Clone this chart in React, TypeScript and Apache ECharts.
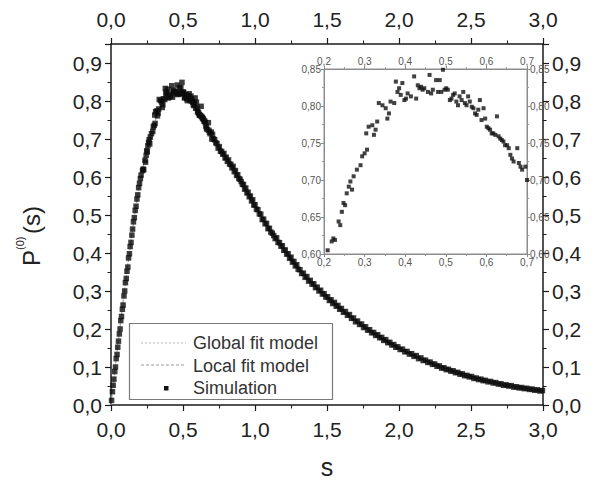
import React, { useEffect, useRef } from "react";
import * as echarts from "echarts";

// ---------- data ----------
const mainXTicks = [0, 0.5, 1, 1.5, 2, 2.5, 3];
const mainYTicks = [0, 0.1, 0.2, 0.3, 0.4, 0.5, 0.6, 0.7, 0.8, 0.9];
const insetXTicks = [0.2, 0.3, 0.4, 0.5, 0.6, 0.7];
const insetYTicks = [0.6, 0.65, 0.7, 0.75, 0.8, 0.85];

const legendLabels = ["Global fit model", "Local fit model", "Simulation"];

// simulation points, rising part (s < 0.2)
const simRising: [number, number][] = [
  [0.004, 0.012], [0.010, 0.035], [0.015, 0.052], [0.020, 0.068], [0.026, 0.088],
  [0.031, 0.100], [0.036, 0.122], [0.042, 0.133], [0.047, 0.152], [0.052, 0.168],
  [0.058, 0.187], [0.063, 0.200], [0.068, 0.222], [0.073, 0.233], [0.079, 0.252],
  [0.084, 0.263], [0.090, 0.287], [0.095, 0.300], [0.100, 0.322], [0.106, 0.333],
  [0.111, 0.352], [0.117, 0.363], [0.122, 0.387], [0.128, 0.398], [0.133, 0.417],
  [0.139, 0.428], [0.145, 0.447], [0.150, 0.463], [0.156, 0.482], [0.162, 0.493],
  [0.168, 0.512], [0.174, 0.523], [0.180, 0.542], [0.186, 0.553], [0.192, 0.572],
  [0.198, 0.583], [0.204, 0.596],
];

// simulation points around the peak (the inset range 0.2 .. 0.7)
const simPeak: [number, number][] = [
  [0.209, 0.605], [0.219, 0.617], [0.223, 0.621], [0.227, 0.619], [0.236, 0.644],
  [0.240, 0.639], [0.244, 0.657], [0.248, 0.669], [0.252, 0.666], [0.256, 0.682],
  [0.261, 0.691], [0.265, 0.698], [0.269, 0.687], [0.273, 0.705], [0.281, 0.714],
  [0.290, 0.720], [0.294, 0.732], [0.300, 0.736], [0.306, 0.741], [0.304, 0.763],
  [0.310, 0.772], [0.319, 0.774], [0.327, 0.768], [0.323, 0.761], [0.331, 0.779],
  [0.335, 0.804], [0.344, 0.801], [0.352, 0.797], [0.356, 0.783], [0.360, 0.790],
  [0.364, 0.806], [0.373, 0.804], [0.377, 0.833], [0.381, 0.819], [0.385, 0.824],
  [0.389, 0.815], [0.393, 0.831], [0.398, 0.808], [0.402, 0.810], [0.406, 0.817],
  [0.414, 0.813], [0.422, 0.840], [0.427, 0.810], [0.431, 0.828], [0.435, 0.824],
  [0.439, 0.826], [0.443, 0.822], [0.447, 0.824], [0.456, 0.819], [0.460, 0.842],
  [0.464, 0.817], [0.468, 0.822], [0.476, 0.835], [0.481, 0.819], [0.485, 0.835],
  [0.489, 0.819], [0.493, 0.849], [0.497, 0.822], [0.501, 0.824], [0.505, 0.822],
  [0.510, 0.808], [0.514, 0.810], [0.518, 0.815], [0.522, 0.817], [0.526, 0.806],
  [0.530, 0.801], [0.534, 0.813], [0.539, 0.808], [0.543, 0.819], [0.547, 0.804],
  [0.551, 0.801], [0.555, 0.813], [0.559, 0.806], [0.564, 0.799], [0.568, 0.797],
  [0.572, 0.790], [0.576, 0.788], [0.580, 0.795], [0.584, 0.808], [0.588, 0.781],
  [0.593, 0.797], [0.597, 0.783], [0.601, 0.772], [0.605, 0.770], [0.609, 0.768],
  [0.613, 0.763], [0.617, 0.763], [0.622, 0.761], [0.626, 0.786], [0.630, 0.759],
  [0.634, 0.756], [0.638, 0.754], [0.642, 0.752], [0.646, 0.747], [0.651, 0.747],
  [0.655, 0.743], [0.659, 0.734], [0.663, 0.729], [0.667, 0.725], [0.676, 0.743],
  [0.680, 0.723], [0.684, 0.718], [0.688, 0.714], [0.696, 0.718], [0.700, 0.700],
];

// simulation points, decaying tail (s > 0.7)
const simDecay: [number, number][] = [
  [0.705, 0.712], [0.712, 0.700], [0.720, 0.698], [0.728, 0.690], [0.736, 0.688],
  [0.744, 0.676], [0.752, 0.680], [0.760, 0.668], [0.768, 0.667], [0.776, 0.660],
  [0.784, 0.662], [0.792, 0.650], [0.800, 0.652], [0.808, 0.641], [0.816, 0.645],
  [0.824, 0.634], [0.832, 0.633], [0.840, 0.624], [0.848, 0.628], [0.856, 0.614],
  [0.864, 0.617], [0.872, 0.604], [0.880, 0.606], [0.888, 0.596], [0.896, 0.594],
  [0.904, 0.588], [0.912, 0.581], [0.920, 0.580], [0.928, 0.568], [0.936, 0.571],
  [0.944, 0.558], [0.952, 0.560], [0.960, 0.548], [0.968, 0.550], [0.976, 0.537],
  [0.984, 0.540], [0.992, 0.526], [1.000, 0.527], [1.010, 0.515], [1.020, 0.514],
  [1.030, 0.503], [1.040, 0.502], [1.050, 0.488], [1.060, 0.489], [1.070, 0.477],
  [1.080, 0.478], [1.090, 0.464], [1.100, 0.465], [1.110, 0.455], [1.120, 0.452],
  [1.130, 0.446], [1.140, 0.438], [1.150, 0.440], [1.160, 0.428], [1.170, 0.427],
  [1.180, 0.418], [1.190, 0.419], [1.200, 0.407], [1.210, 0.408], [1.220, 0.397],
  [1.230, 0.398], [1.240, 0.386], [1.250, 0.389], [1.260, 0.376], [1.270, 0.378],
  [1.280, 0.366], [1.290, 0.369], [1.300, 0.357], [1.312, 0.356], [1.324, 0.346],
  [1.336, 0.347], [1.348, 0.336], [1.360, 0.338], [1.372, 0.326], [1.384, 0.328],
  [1.396, 0.318], [1.408, 0.319], [1.420, 0.309], [1.432, 0.310], [1.444, 0.300],
  [1.456, 0.302], [1.468, 0.292], [1.480, 0.293], [1.492, 0.284], [1.504, 0.285],
  [1.516, 0.275], [1.528, 0.277], [1.540, 0.267], [1.552, 0.270], [1.564, 0.260],
  [1.576, 0.262], [1.588, 0.252], [1.600, 0.254], [1.614, 0.244], [1.628, 0.246],
  [1.642, 0.236], [1.656, 0.238], [1.670, 0.228], [1.684, 0.229], [1.698, 0.219],
  [1.712, 0.221], [1.726, 0.212], [1.740, 0.213], [1.754, 0.204], [1.768, 0.206],
  [1.782, 0.197], [1.796, 0.198], [1.810, 0.190], [1.824, 0.191], [1.838, 0.183],
  [1.852, 0.185], [1.866, 0.177], [1.880, 0.178], [1.894, 0.170], [1.908, 0.172],
  [1.922, 0.164], [1.936, 0.165], [1.950, 0.158], [1.964, 0.159], [1.978, 0.152],
  [1.992, 0.153], [2.008, 0.146], [2.024, 0.147], [2.040, 0.140], [2.056, 0.141],
  [2.072, 0.134], [2.088, 0.135], [2.104, 0.128], [2.120, 0.130], [2.136, 0.122],
  [2.152, 0.124], [2.168, 0.117], [2.184, 0.118], [2.200, 0.112], [2.216, 0.113],
  [2.232, 0.107], [2.248, 0.108], [2.264, 0.102], [2.280, 0.103], [2.296, 0.097],
  [2.312, 0.098], [2.328, 0.093], [2.344, 0.094], [2.360, 0.089], [2.376, 0.090],
  [2.392, 0.085], [2.408, 0.086], [2.424, 0.081], [2.440, 0.082], [2.456, 0.077],
  [2.472, 0.078], [2.488, 0.074], [2.504, 0.075], [2.520, 0.070], [2.536, 0.071],
  [2.552, 0.067], [2.568, 0.068], [2.584, 0.064], [2.600, 0.065], [2.618, 0.061],
  [2.636, 0.062], [2.654, 0.058], [2.672, 0.059], [2.690, 0.055], [2.708, 0.056],
  [2.726, 0.052], [2.744, 0.053], [2.762, 0.050], [2.780, 0.051], [2.798, 0.047],
  [2.816, 0.048], [2.834, 0.045], [2.852, 0.046], [2.870, 0.043], [2.888, 0.044],
  [2.906, 0.041], [2.924, 0.042], [2.942, 0.039], [2.960, 0.040], [2.978, 0.037],
  [2.996, 0.038],
];

// fit model curves (hidden below the simulation points)
const globalFit: [number, number][] = [
  [0, 0], [0.05, 0.17], [0.1, 0.32], [0.15, 0.465], [0.2, 0.585], [0.25, 0.67],
  [0.3, 0.74], [0.35, 0.79], [0.4, 0.815], [0.45, 0.825], [0.5, 0.82], [0.55, 0.805],
  [0.6, 0.78], [0.65, 0.745], [0.7, 0.705], [0.8, 0.65], [0.9, 0.59], [1.0, 0.525],
  [1.1, 0.462], [1.2, 0.408], [1.3, 0.36], [1.4, 0.318], [1.5, 0.282], [1.6, 0.25],
  [1.7, 0.22], [1.8, 0.194], [1.9, 0.171], [2.0, 0.148], [2.2, 0.114], [2.4, 0.087],
  [2.6, 0.065], [2.8, 0.049], [3.0, 0.037],
];
const localFit: [number, number][] = [
  [0, 0], [0.05, 0.165], [0.1, 0.318], [0.15, 0.46], [0.2, 0.58], [0.25, 0.668],
  [0.3, 0.738], [0.35, 0.788], [0.4, 0.815], [0.45, 0.826], [0.5, 0.822], [0.55, 0.806],
  [0.6, 0.781], [0.65, 0.746], [0.7, 0.706], [0.8, 0.651], [0.9, 0.591], [1.0, 0.526],
  [1.1, 0.463], [1.2, 0.409], [1.3, 0.361], [1.4, 0.319], [1.5, 0.283], [1.6, 0.251],
  [1.7, 0.221], [1.8, 0.195], [1.9, 0.172], [2.0, 0.149], [2.2, 0.115], [2.4, 0.088],
  [2.6, 0.066], [2.8, 0.05], [3.0, 0.038],
];

const simulation: [number, number][] = [...simRising, ...simPeak, ...simDecay];

// ---------- helpers ----------
const FONT = "'Liberation Sans', Arial, Helvetica, sans-serif";
const fmt = (v: number, d: number) => v.toFixed(d).replace(".", ",");
const near = (v: number, ticks: number[]) => ticks.some((t) => Math.abs(t - v) < 1e-6);

function mainAxis(pos: string, kind: "x" | "y") {
  const isX = kind === "x";
  const ticks = isX ? mainXTicks : mainYTicks;
  return {
    type: "value",
    gridIndex: 0,
    position: pos,
    min: 0,
    max: isX ? 3 : 0.95,
    interval: isX ? 0.5 : 0.1,
    axisLine: { show: true, onZero: false, lineStyle: { color: "#1a1a1a", width: 1.5 } },
    axisTick: { show: true, inside: false, length: 6, lineStyle: { color: "#1a1a1a", width: 1.2 } },
    minorTick: { show: true, splitNumber: 2, length: 3.5, lineStyle: { color: "#1a1a1a", width: 1 } },
    splitLine: { show: false },
    minorSplitLine: { show: false },
    axisLabel: {
      show: true,
      fontSize: 21,
      fontFamily: FONT,
      color: "#222",
      margin: isX ? 14 : 9,
      showMaxLabel: isX,
      formatter: (v: number) => (near(v, ticks) ? fmt(v, 1) : ""),
    },
  };
}

function insetAxis(pos: string, kind: "x" | "y") {
  const isX = kind === "x";
  const ticks = isX ? insetXTicks : insetYTicks;
  return {
    type: "value",
    gridIndex: 1,
    position: pos,
    min: isX ? 0.2 : 0.6,
    max: isX ? 0.7 : 0.85,
    interval: isX ? 0.1 : 0.05,
    axisLine: { show: true, onZero: false, lineStyle: { color: "#8c8c8c", width: 1 } },
    axisTick: { show: true, inside: false, length: 3, lineStyle: { color: "#8c8c8c", width: 1 } },
    minorTick: { show: true, splitNumber: 2, length: 2, lineStyle: { color: "#9a9a9a", width: 1 } },
    splitLine: { show: false },
    axisLabel: {
      show: true,
      fontSize: 10,
      fontFamily: FONT,
      color: "#555",
      margin: 3,
      formatter: (v: number) => (near(v, ticks) ? fmt(v, isX ? 1 : 2) : ""),
    },
  };
}

export default function App() {
  const ref = useRef<HTMLDivElement>(null);

  useEffect(() => {
    if (!ref.current) return;
    document.body.style.margin = "0";
    const chart = echarts.init(ref.current, null, { renderer: "svg" });

    const insetData = simulation.filter(
      ([s, p]) => s >= 0.2 && s <= 0.7 && p >= 0.6 && p <= 0.85
    );

    const option: any = {
      animation: false,
      backgroundColor: "#fff",
      grid: [
        { left: 111, top: 44, width: 432, height: 361, show: false },
        {
          left: 324, top: 69, width: 203, height: 185, show: true,
          backgroundColor: "#fff", borderColor: "#8c8c8c", borderWidth: 1,
        },
      ],
      xAxis: [
        mainAxis("bottom", "x"),
        mainAxis("top", "x"),
        insetAxis("bottom", "x"),
        insetAxis("top", "x"),
      ],
      yAxis: [
        mainAxis("left", "y"),
        mainAxis("right", "y"),
        insetAxis("left", "y"),
        insetAxis("right", "y"),
      ],
      series: [
        {
          name: legendLabels[0], type: "line", xAxisIndex: 0, yAxisIndex: 0,
          data: globalFit, symbol: "none", smooth: true, z: 1,
          lineStyle: { type: "dotted", color: "#b5b5b5", width: 1 },
        },
        {
          name: legendLabels[1], type: "line", xAxisIndex: 0, yAxisIndex: 0,
          data: localFit, symbol: "none", smooth: true, z: 1,
          lineStyle: { type: "dashed", color: "#9a9a9a", width: 1 },
        },
        {
          name: legendLabels[2], type: "scatter", xAxisIndex: 0, yAxisIndex: 0,
          data: simulation, symbol: "rect", symbolSize: 5.5, z: 3,
          itemStyle: { color: "#0d0d0d" },
        },
        {
          name: legendLabels[2] + " (inset)", type: "scatter", xAxisIndex: 2, yAxisIndex: 2,
          data: insetData, symbol: "rect", symbolSize: 4, z: 6, clip: true,
          itemStyle: { color: "#111" },
        },
      ],
      graphic: [
        // y-axis title P^(0)(s)
        {
          type: "group", x: 31, y: 228, rotation: Math.PI / 2, z: 20,
          children: [
            { type: "text", x: -38, y: 0, style: { text: "P", fontSize: 24, fontFamily: FONT, fill: "#222", verticalAlign: "middle", align: "left" } },
            { type: "text", x: -22, y: -11, style: { text: "(0)", fontSize: 11, fontFamily: FONT, fill: "#222", verticalAlign: "middle", align: "left" } },
            { type: "text", x: -6, y: 0, style: { text: "(s)", fontSize: 24, fontFamily: FONT, fill: "#222", verticalAlign: "middle", align: "left" } },
          ],
        },
        // x-axis title
        {
          type: "text", x: 327, y: 467, z: 20,
          style: { text: "s", fontSize: 25, fontFamily: FONT, fill: "#222", align: "center", verticalAlign: "middle" },
        },
        // legend
        {
          type: "group", z: 20,
          children: [
            { type: "rect", shape: { x: 129.5, y: 323.5, width: 203, height: 76 }, style: { fill: "#fff", stroke: "#7a7a7a", lineWidth: 1.2 } },
            { type: "line", shape: { x1: 141, y1: 343, x2: 186, y2: 343 }, style: { stroke: "#b5b5b5", lineWidth: 1, lineDash: [2, 2] } },
            { type: "line", shape: { x1: 141, y1: 365, x2: 186, y2: 365 }, style: { stroke: "#9a9a9a", lineWidth: 1, lineDash: [3, 2] } },
            { type: "rect", shape: { x: 164, y: 386, width: 4.5, height: 4.5 }, style: { fill: "#111" } },
            { type: "text", x: 193, y: 343, style: { text: legendLabels[0], fontSize: 18, fontFamily: FONT, fill: "#333", verticalAlign: "middle" } },
            { type: "text", x: 193, y: 366, style: { text: legendLabels[1], fontSize: 18, fontFamily: FONT, fill: "#333", verticalAlign: "middle" } },
            { type: "text", x: 193, y: 388, style: { text: legendLabels[2], fontSize: 18, fontFamily: FONT, fill: "#333", verticalAlign: "middle" } },
          ],
        },
      ],
    };

    chart.setOption(option);
    return () => chart.dispose();
  }, []);

  return (
    <div
      ref={ref}
      style={{ position: "fixed", left: 0, top: 0, width: 605, height: 484, background: "#fff" }}
    />
  );
}
